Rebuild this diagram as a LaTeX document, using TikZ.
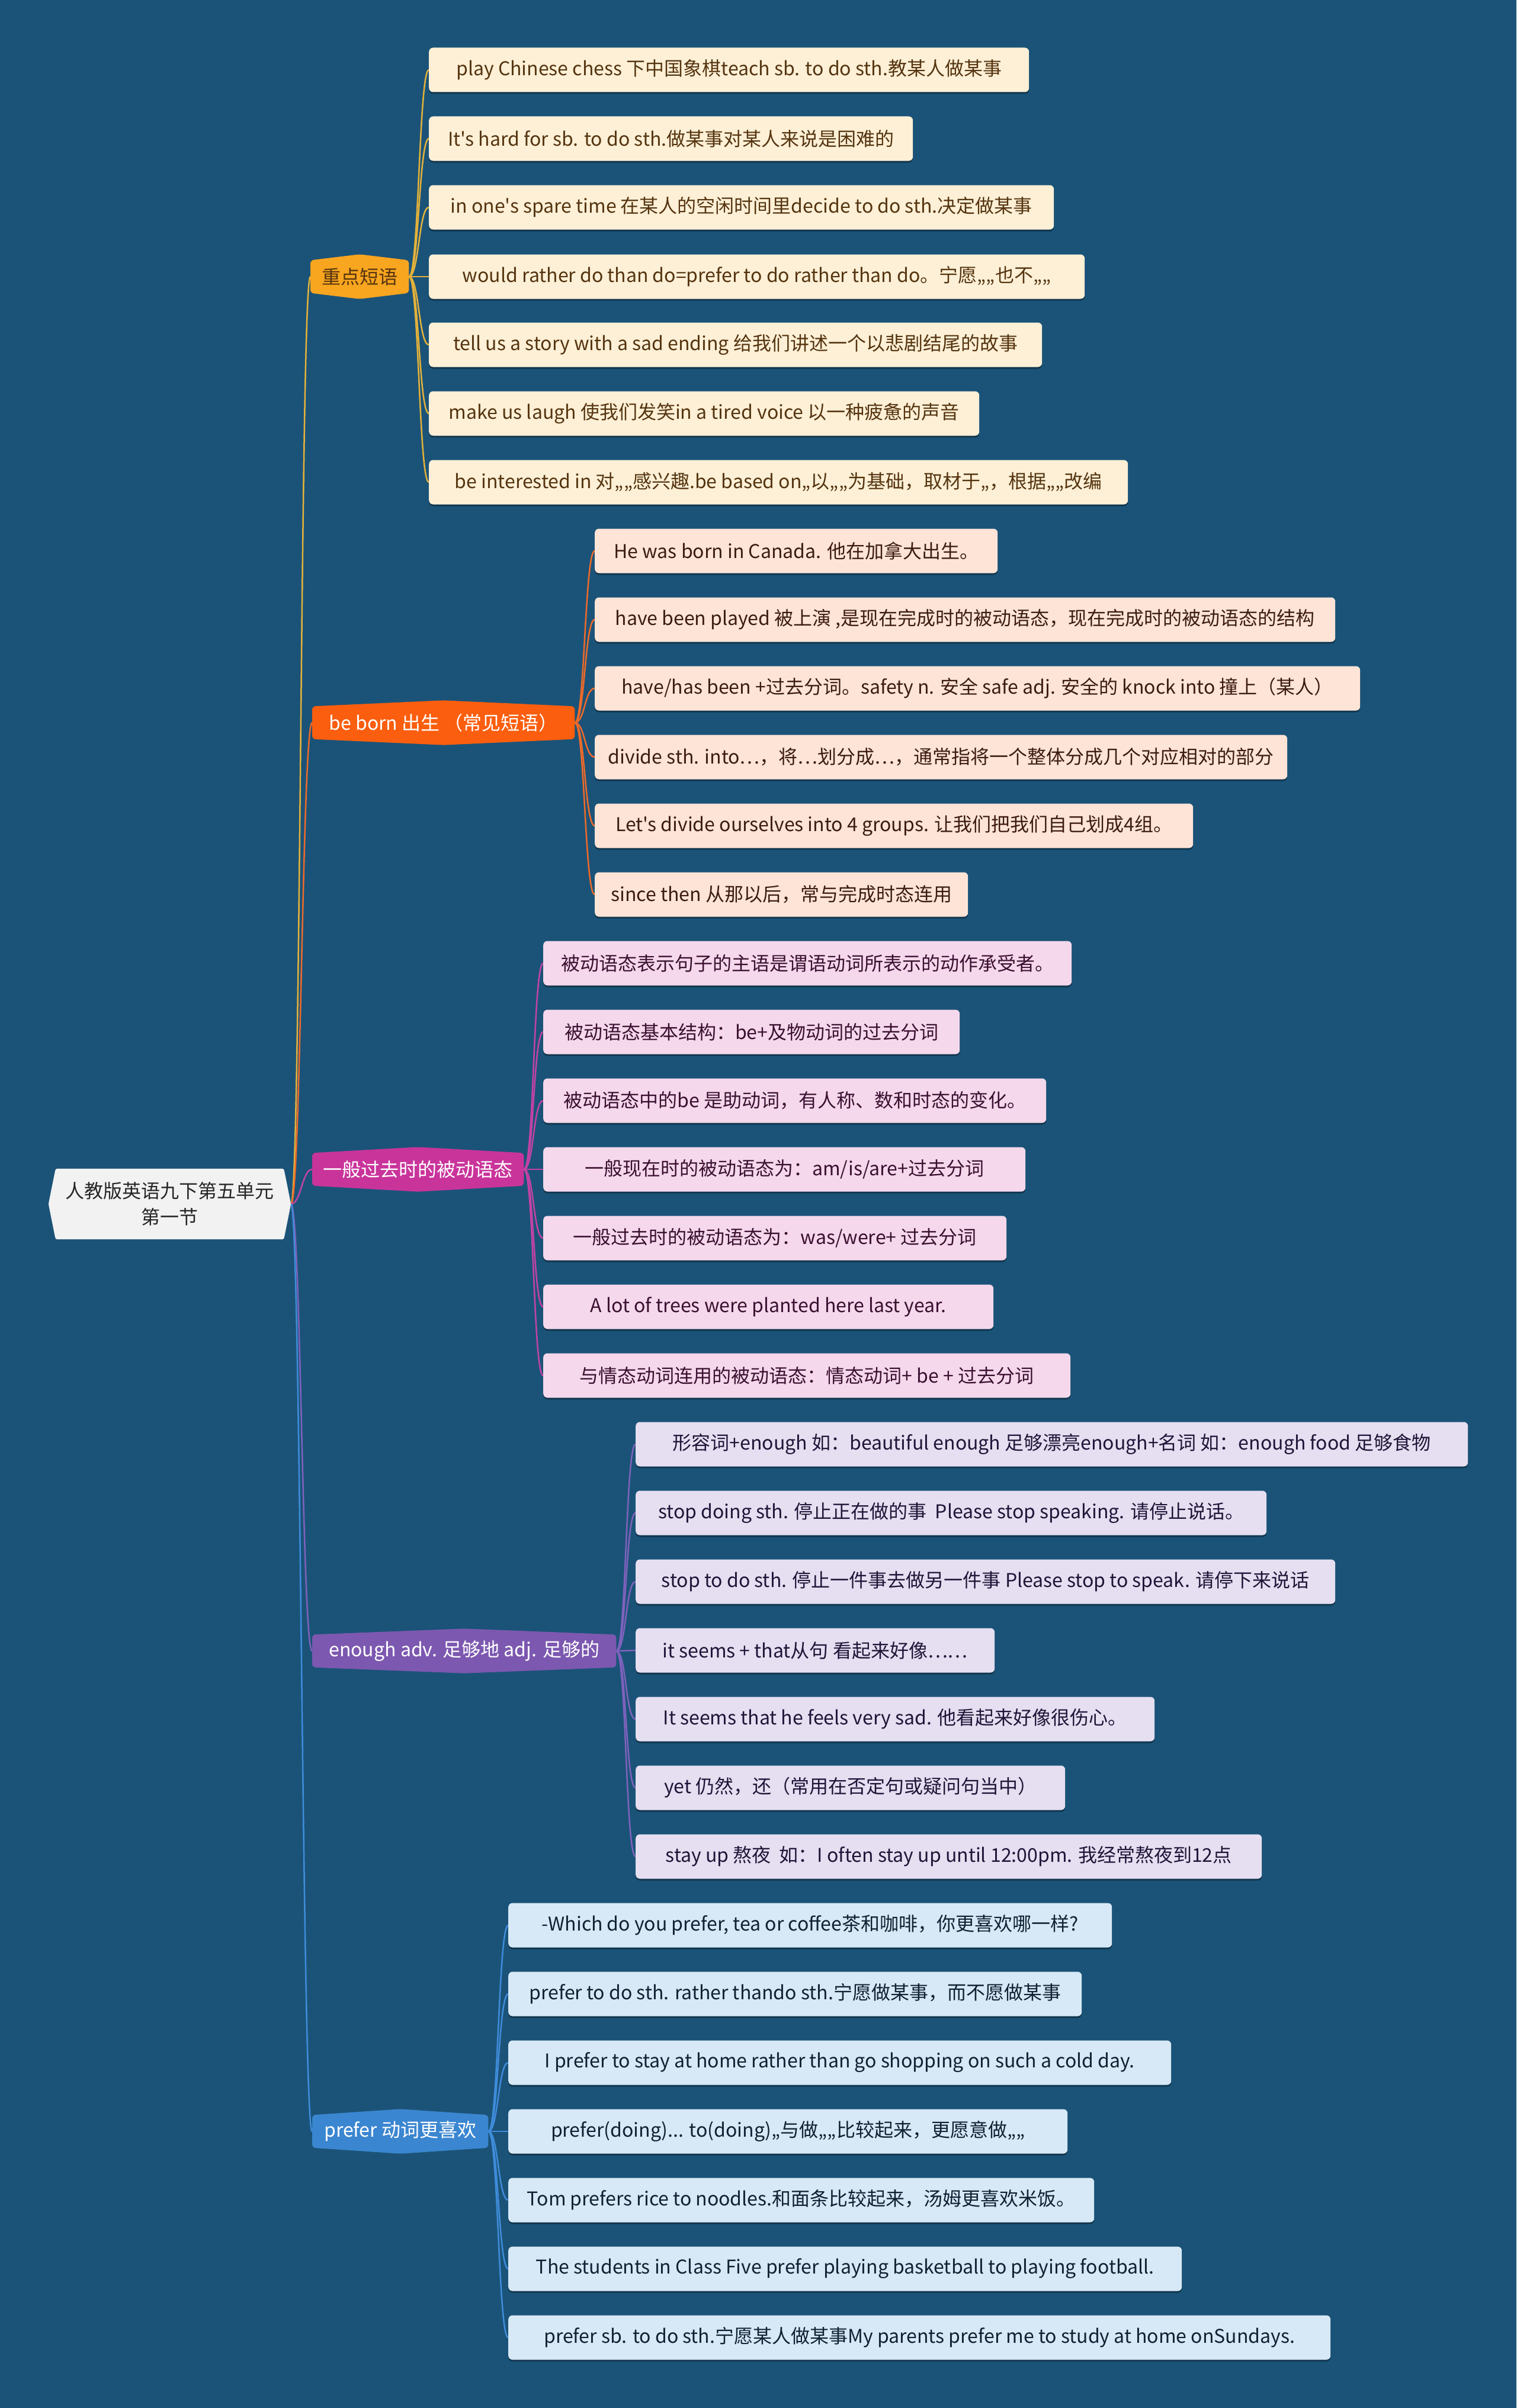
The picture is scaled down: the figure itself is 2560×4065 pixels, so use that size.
\documentclass[tikz,border=0pt]{standalone}
\usepackage{fontspec}
\newfontfamily\cjkf{Noto Sans CJK SC}
\usetikzlibrary{calc,shadows}
\pgfdeclarelayer{bg}\pgfdeclarelayer{lines}\pgfdeclarelayer{shapes}
\pgfsetlayers{bg,lines,shapes,main}
\definecolor{bgc}{RGB}{27,83,120}
\definecolor{rootf}{HTML}{F2F2F2}
\definecolor{roott}{HTML}{262626}
\definecolor{gA}{HTML}{F8A51F}\definecolor{lA}{HTML}{E4B23A}\definecolor{fA}{HTML}{FDF0D6}\definecolor{tA}{HTML}{553410}
\definecolor{gB}{HTML}{FB5E0E}\definecolor{lB}{HTML}{EE6A2A}\definecolor{fB}{HTML}{FDE4D7}\definecolor{tB}{HTML}{3D1C10}
\definecolor{gC}{HTML}{C9349B}\definecolor{lC}{HTML}{C243A4}\definecolor{fC}{HTML}{F5D8EB}\definecolor{tC}{HTML}{3A1030}
\definecolor{gD}{HTML}{7C58B0}\definecolor{lD}{HTML}{7E62BC}\definecolor{fD}{HTML}{E5DFF1}\definecolor{tD}{HTML}{1F1538}
\definecolor{gE}{HTML}{3B86D0}\definecolor{lE}{HTML}{3F8CDB}\definecolor{fE}{HTML}{D7E8F6}\definecolor{tE}{HTML}{0E2233}
\tikzset{
  txt/.style={font=\cjkf\fontsize{32}{40}\selectfont},
  leaf/.style={txt, anchor=west, rounded corners=7pt, minimum height=75pt, inner sep=0pt, align=center,
    drop shadow={shadow xshift=0pt, shadow yshift=-3pt, opacity=0.35, fill=black}},
  grp/.style={txt, anchor=west, minimum height=55pt, inner sep=0pt, align=center},
  lnk/.style={line width=2.5pt},
}
\newcommand\grpshape[2]{%
  \begin{pgfonlayer}{shapes}
  \fill[#2, rounded corners=6pt] (#1.north west) -- ([yshift=10pt]#1.north) -- (#1.north east)
     -- (#1.south east) -- ([yshift=-10pt]#1.south) -- (#1.south west) -- cycle;
  \end{pgfonlayer}}
\newcommand\lnkto[3]{%
  \begin{pgfonlayer}{lines}
  \draw[lnk, #3] (#1.east) .. controls ($(#1.east)+(17,0)$) and ($(#2.west)+(-17,0)$) .. (#2.west);
  \end{pgfonlayer}}
\begin{document}
\begin{tikzpicture}[x=1pt, y=-1pt]
\begin{pgfonlayer}{bg}
\fill[bgc] (0,0) rectangle (2560,4065);
\end{pgfonlayer}
\useasboundingbox (0,0) rectangle (2560,4065);

% root
\node[txt, text=roott, minimum width=409pt, minimum height=119pt, inner sep=0pt, align=center,
  font=\cjkf\fontsize{32}{44}\selectfont] (root) at (286.5,2032.5) {人教版英语九下第五单元\\第一节};
\begin{pgfonlayer}{shapes}
\fill[rootf, rounded corners=3pt] ([xshift=12pt]root.north west) -- ([xshift=-12pt]root.north east) -- (root.east)
  -- ([xshift=-12pt]root.south east) -- ([xshift=12pt]root.south west) -- (root.west) -- cycle;
\end{pgfonlayer}

% groups
\node[grp, text=tA, minimum width=166pt] (gA) at (524,467) {重点短语};
\node[grp, text=white, minimum width=443pt] (gB) at (527,1220) {be born 出生 （常见短语）};
\node[grp, text=white, minimum width=357pt] (gC) at (527,1974) {一般过去时的被动语态};
\node[grp, text=white, minimum width=513pt] (gD) at (527,2787) {enough adv. 足够地 adj. 足够的};
\node[grp, text=white, minimum width=297pt] (gE) at (527,3598) {prefer 动词更喜欢};
\grpshape{gA}{gA}\grpshape{gB}{gB}\grpshape{gC}{gC}\grpshape{gD}{gD}\grpshape{gE}{gE}
\lnkto{root}{gA}{lA}\lnkto{root}{gB}{lB}\lnkto{root}{gC}{lC}\lnkto{root}{gD}{lD}\lnkto{root}{gE}{lE}

% group A leaves
\node[leaf, fill=fA, text=tA, minimum width=1013pt] (a1) at (724,118) {play Chinese chess 下中国象棋teach sb. to do sth.教某人做某事};
\node[leaf, fill=fA, text=tA, minimum width=817pt] (a2) at (724,234) {It's hard for sb. to do sth.做某事对某人来说是困难的};
\node[leaf, fill=fA, text=tA, minimum width=1055pt] (a3) at (724,350) {in one's spare time 在某人的空闲时间里decide to do sth.决定做某事};
\node[leaf, fill=fA, text=tA, minimum width=1107pt] (a4) at (724,467) {would rather do than do=prefer to do rather than do。宁愿„„也不„„};
\node[leaf, fill=fA, text=tA, minimum width=1035pt] (a5) at (724,582) {tell us a story with a sad ending 给我们讲述一个以悲剧结尾的故事};
\node[leaf, fill=fA, text=tA, minimum width=929pt] (a6) at (724,698) {make us laugh 使我们发笑in a tired voice 以一种疲惫的声音};
\node[leaf, fill=fA, text=tA, minimum width=1180pt] (a7) at (724,814) {be interested in 对„„感兴趣.be based on„以„„为基础，取材于„，根据„„改编};
\foreach \n in {a1,a2,a3,a4,a5,a6,a7} {\lnkto{gA}{\n}{lA}}

% group B leaves
\node[leaf, fill=fB, text=tB, minimum width=680pt] (b1) at (1004,930) {He was born in Canada. 他在加拿大出生。};
\node[leaf, fill=fB, text=tB, minimum width=1250pt] (b2) at (1004,1046) {have been played 被上演 ,是现在完成时的被动语态，现在完成时的被动语态的结构};
\node[leaf, fill=fB, text=tB, minimum width=1292pt] (b3) at (1004,1162) {have/has been +过去分词。safety n. 安全 safe adj. 安全的 knock into 撞上（某人）};
\node[leaf, fill=fB, text=tB, minimum width=1169pt] (b4) at (1004,1278) {divide sth. into…，将…划分成…，通常指将一个整体分成几个对应相对的部分};
\node[leaf, fill=fB, text=tB, minimum width=1010pt] (b5) at (1004,1394) {Let's divide ourselves into 4 groups. 让我们把我们自己划成4组。};
\node[leaf, fill=fB, text=tB, minimum width=630pt] (b6) at (1004,1510) {since then 从那以后，常与完成时态连用};
\foreach \n in {b1,b2,b3,b4,b5,b6} {\lnkto{gB}{\n}{lB}}

% group C leaves
\node[leaf, fill=fC, text=tC, minimum width=892pt] (c1) at (917,1626) {被动语态表示句子的主语是谓语动词所表示的动作承受者。};
\node[leaf, fill=fC, text=tC, minimum width=703pt] (c2) at (917,1742) {被动语态基本结构：be+及物动词的过去分词};
\node[leaf, fill=fC, text=tC, minimum width=849pt] (c3) at (917,1858) {被动语态中的be 是助动词，有人称、数和时态的变化。};
\node[leaf, fill=fC, text=tC, minimum width=814pt] (c4) at (917,1974) {一般现在时的被动语态为：am/is/are+过去分词};
\node[leaf, fill=fC, text=tC, minimum width=782pt] (c5) at (917,2090) {一般过去时的被动语态为：was/were+ 过去分词};
\node[leaf, fill=fC, text=tC, minimum width=760pt] (c6) at (917,2206) {A lot of trees were planted here last year.};
\node[leaf, fill=fC, text=tC, minimum width=890pt] (c7) at (917,2322) {与情态动词连用的被动语态：情态动词+ be + 过去分词};
\foreach \n in {c1,c2,c3,c4,c5,c6,c7} {\lnkto{gC}{\n}{lC}}

% group D leaves
\node[leaf, fill=fD, text=tD, minimum width=1405pt] (d1) at (1073,2438) {形容词+enough 如：beautiful enough 足够漂亮enough+名词 如：enough food 足够食物};
\node[leaf, fill=fD, text=tD, minimum width=1065pt] (d2) at (1073,2554) {stop doing sth. 停止正在做的事\ \ Please stop speaking. 请停止说话。};
\node[leaf, fill=fD, text=tD, minimum width=1181pt] (d3) at (1073,2670) {stop to do sth. 停止一件事去做另一件事 Please stop to speak. 请停下来说话};
\node[leaf, fill=fD, text=tD, minimum width=606pt] (d4) at (1073,2786) {it seems + that从句 看起来好像……};
\node[leaf, fill=fD, text=tD, minimum width=876pt] (d5) at (1073,2902) {It seems that he feels very sad. 他看起来好像很伤心。};
\node[leaf, fill=fD, text=tD, minimum width=725pt] (d6) at (1073,3018) {yet 仍然，还（常用在否定句或疑问句当中）};
\node[leaf, fill=fD, text=tD, minimum width=1057pt] (d7) at (1073,3134) {stay up 熬夜\ \ 如：I often stay up until 12:00pm. 我经常熬夜到12点};
\foreach \n in {d1,d2,d3,d4,d5,d6,d7} {\lnkto{gD}{\n}{lD}}

% group E leaves
\node[leaf, fill=fE, text=tE, minimum width=1019pt] (e1) at (858,3250) {-Which do you prefer, tea or coffee茶和咖啡，你更喜欢哪一样?};
\node[leaf, fill=fE, text=tE, minimum width=968pt] (e2) at (858,3366) {prefer to do sth. rather thando sth.宁愿做某事，而不愿做某事};
\node[leaf, fill=fE, text=tE, minimum width=1119pt] (e3) at (858,3482) {I prefer to stay at home rather than go shopping on such a cold day.};
\node[leaf, fill=fE, text=tE, minimum width=944pt] (e4) at (858,3598) {prefer(doing)... to(doing)„与做„„比较起来，更愿意做„„};
\node[leaf, fill=fE, text=tE, minimum width=989pt] (e5) at (858,3714) {Tom prefers rice to noodles.和面条比较起来，汤姆更喜欢米饭。};
\node[leaf, fill=fE, text=tE, minimum width=1137pt] (e6) at (858,3830) {The students in Class Five prefer playing basketball to playing football.};
\node[leaf, fill=fE, text=tE, minimum width=1388pt] (e7) at (858,3946) {prefer sb. to do sth.宁愿某人做某事My parents prefer me to study at home onSundays.};
\foreach \n in {e1,e2,e3,e4,e5,e6,e7} {\lnkto{gE}{\n}{lE}}
\end{tikzpicture}
\end{document}
